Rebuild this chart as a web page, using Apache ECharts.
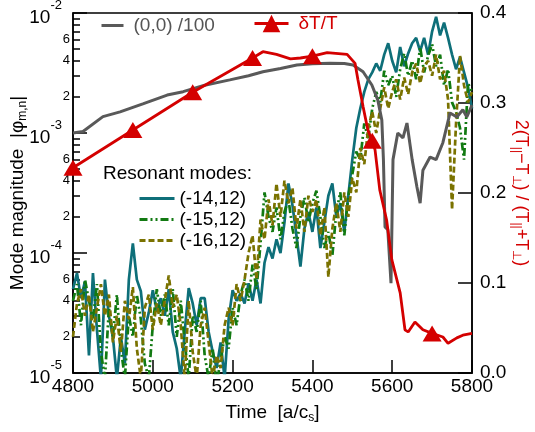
<!DOCTYPE html>
<html><head><meta charset="utf-8">
<script src="https://cdn.jsdelivr.net/npm/echarts@6/dist/echarts.min.js"></script>
<style>html,body{margin:0;padding:0;background:#fff}#c{width:535px;height:432px}</style>
</head><body><div id="c"></div>
<script>
const timeGrid = [4800,4810,4820,4830,4840,4850,4860,4870,4880,4890,4900,4910,4920,4930,4940,4950,4960,4970,4980,4990,
5000,5010,5020,5030,5040,5050,5060,5070,5080,5090,5100,5110,5120,5130,5140,5150,5160,5170,5180,5190,
5200,5210,5220,5230,5240,5250,5260,5270,5280,5290,5300,5310,5320,5330,5340,5350,5360,5370,5380,5390,
5400,5410,5420,5430,5440,5450,5460,5470,5480,5490,5500,5510,5520,5530,5540,5550,5560,5570,5580,5590,
5600,5610,5620,5630,5640,5650,5660,5670,5680,5690,5700,5710,5720,5730,5740,5750,5760,5770,5780,5790,5800];
const mode14 = [5e-5,6.8e-5,4.2e-5,5.8e-5,1.4e-5,6.8e-5,2.3e-5,9e-6,6e-5,3e-5,2e-5,9e-6,2e-5,1.2e-5,6e-5,1.2e-4,6e-5,4.8e-5,2.3e-5,3.2e-5,
4.9e-5,3.3e-5,4.2e-5,3e-5,5e-5,2.2e-5,1.6e-5,9e-6,2.2e-5,5.1e-5,3.8e-5,2.5e-5,4.2e-5,4.2e-5,2.2e-5,1.5e-5,1.1e-5,1.8e-5,9e-6,2.8e-5,
4.9e-5,4e-5,4.6e-5,3.8e-5,5.6e-5,4e-5,6e-5,3.8e-5,8.3e-5,1.12e-4,9e-5,1.3e-4,1e-4,1.8e-4,3.8e-4,2.5e-4,1.4e-4,7.7e-5,1.6e-4,2.2e-4,
1.5e-4,2.4e-4,1.1e-4,1.8e-4,3e-4,3.8e-4,2e-4,2.6e-4,1.5e-4,3e-4,6e-4,1.1e-3,1.6e-3,2.2e-3,2.8e-3,3.2e-3,3.8e-3,3.3e-3,4.5e-3,5.6e-3,
4e-3,3.2e-3,5.2e-3,3.6e-3,4.6e-3,5.6e-3,6.2e-3,4.8e-3,6.2e-3,4.5e-3,7e-3,9.3e-3,6.5e-3,8.3e-3,6.2e-3,4.5e-3,3.4e-3,4.3e-3,3.2e-3,2.4e-3,1.6e-3];
const mode15 = [4e-5,5.5e-5,2.5e-5,6e-5,4e-5,2.8e-5,5.5e-5,1.5e-5,9e-6,3.5e-5,2e-5,4.5e-5,1.6e-5,9e-6,3e-5,2e-5,4.5e-5,2.8e-5,1.2e-5,9e-6,
2.5e-5,5e-5,3e-5,4.5e-5,2.5e-5,5e-5,2e-5,4e-5,1.8e-5,9e-6,3e-5,2.2e-5,4e-5,1.4e-5,9e-6,1.6e-5,8e-6,1.3e-5,2e-5,1.6e-5,
3.5e-5,2.5e-5,4.5e-5,6e-5,4e-5,8e-5,5e-5,1.2e-4,3.2e-4,2e-4,1.5e-4,2.4e-4,1.3e-4,2.2e-4,2.8e-4,1.6e-4,1.1e-4,2e-4,2.9e-4,1.8e-4,
2.6e-4,3.3e-4,2e-4,1.1e-4,1.5e-4,9.5e-5,2.2e-4,3.2e-4,1.4e-4,3e-4,4.5e-4,7e-4,6e-4,1.2e-3,9e-4,1.6e-3,2.2e-3,1.8e-3,3.3e-3,2.5e-3,
3e-3,2e-3,3.4e-3,4.6e-3,3e-3,4e-3,2.8e-3,5.2e-3,3.2e-3,4.4e-3,5.5e-3,3.6e-3,4.5e-3,2.5e-3,3.4e-3,1.8e-3,1.5e-3,1.1e-3,6e-4,2.6e-3,2.2e-3];
const mode16 = [2e-5,3.8e-5,5e-5,3e-5,4.5e-5,2.2e-5,3.5e-5,5.5e-5,3e-5,4.5e-5,1.8e-5,3e-5,1.5e-5,4e-5,2.8e-5,5.2e-5,1.6e-5,9e-6,3.5e-5,4.5e-5,
2.3e-5,3.8e-5,2.5e-5,4e-5,6.5e-5,3.5e-5,4.5e-5,2.5e-5,9e-6,4e-5,1.5e-5,9e-6,2.5e-5,3.5e-5,1.8e-5,9e-6,1.4e-5,1.1e-5,2.5e-5,3.5e-5,
2.5e-5,5.5e-5,4e-5,6e-5,1e-4,1.4e-4,6e-5,1.9e-4,1.3e-4,2.8e-4,1.7e-4,3.8e-4,2e-4,4e-4,2.6e-4,3.5e-4,1.6e-4,2.8e-4,1.5e-4,3e-4,
2.2e-4,2.8e-4,1.4e-4,2.4e-4,6.3e-5,1.6e-4,2.6e-4,1.5e-4,3.2e-4,2e-4,4.2e-4,3.2e-4,7.5e-4,5.5e-4,1.1e-3,1.5e-3,1e-3,1.6e-3,2.4e-3,1.6e-3,
2.2e-3,2.8e-3,1.9e-3,2.9e-3,2.1e-3,3.2e-3,3.8e-3,2.6e-3,3.6e-3,4e-3,3e-3,4.5e-3,2.8e-3,3.3e-3,1.9e-3,2.3e-4,1.2e-3,4.4e-3,2.5e-3,1.8e-3,2.2e-3];
const zeroTime = [4800,4825,4875,4918,4975,5036,5076,5130,5193,5240,5276,5320,5361,5400,5444,5480,5502,5527,5549,5564,5574,5578,5582,5589,5597,5602,5614,5627,5637,5650,5662,5670,5677,5695,5710,5727,5745,5762,5777,5787,5800];
const zeroMode = [1e-3,1.03e-3,1.37e-3,1.5e-3,1.75e-3,2.07e-3,2.21e-3,2.5e-3,2.77e-3,3e-3,3.24e-3,3.45e-3,3.69e-3,3.78e-3,3.81e-3,3.8e-3,3.69e-3,3.24e-3,2.51e-3,1.88e-3,1.28e-3,6e-4,1.65e-4,1.56e-4,5.6e-5,6e-4,1e-3,9.1e-4,1.21e-3,6e-4,3.55e-4,2.6e-4,4.9e-4,6.3e-4,6e-4,8.3e-4,1.47e-3,1.36e-3,1.56e-3,1.36e-3,1.71e-3];
const dTTime = [4800,4950,5100,5250,5276,5310,5345,5370,5400,5437,5487,5507,5514,5527,5539,5550,5557,5569,5586,5599,5620,5632,5640,5657,5677,5700,5727,5740,5762,5777,5800];
const dTValue = [0.228,0.27,0.312,0.35,0.357,0.354,0.349,0.35,0.352,0.356,0.354,0.344,0.326,0.296,0.27,0.258,0.248,0.203,0.17,0.126,0.089,0.048,0.0456,0.0567,0.048,0.044,0.04,0.033,0.039,0.042,0.044];
const dTMarkerTimes = [4800,4950,5100,5250,5400,5550,5700];
const xTicks = [4800,5000,5200,5400,5600,5800];
const rightTicks = [0,0.1,0.2,0.3,0.4];
const decades = [1e-5,1e-4,1e-3,1e-2];
const minorFactors = [2,3,4,5,6,7,8,9];
const minorLabelFactors = [2,4,6];

const FONT = '"Liberation Sans", Arial, Helvetica, sans-serif';
const minorTicks = [], minorLabels = [];
decades.slice(0, 3).forEach(d => {
  minorFactors.forEach(f => minorTicks.push(d * f));
  minorLabelFactors.forEach(f => minorLabels.push(d * f));
});
const pairs = (xs, ys) => xs.map((x, i) => [x, ys[i]]);

const chart = echarts.init(document.getElementById('c'), null, {renderer: 'canvas'});
const axisLine = {show: true, lineStyle: {color: '#000', width: 1.5}};
const subRich = (color, size) => ({
  t: {fontSize: size, color: color, fontFamily: FONT, lineHeight: 22},
  s: {fontSize: 12, color: color, fontFamily: FONT, verticalAlign: 'bottom', lineHeight: 22, padding: [9, 0, 0, 0]}
});
const option = {
  animation: false,
  backgroundColor: '#fff',
  textStyle: {fontFamily: FONT},
  grid: {left: 73, right: 63, top: 13, bottom: 59, outerBoundsMode: 'none', containLabel: false,
         show: true, borderColor: '#000', borderWidth: 1.5, backgroundColor: 'transparent'},
  title: {text: 'Resonant modes:', left: 98, top: 159, textStyle: {fontSize: 19, fontWeight: 'normal', color: '#000', fontFamily: FONT}},
  legend: [
    {left: 100, top: 16, padding: 0, itemWidth: 22, itemHeight: 14, selectedMode: false, itemStyle: {opacity: 0}, lineStyle: {width: 3},
     textStyle: {fontSize: 19, fontFamily: FONT, padding: [0, 0, 0, 5]}, data: [{name: '(0,0) /100', textStyle: {color: '#555'}}]},
    {left: 253, top: 14, padding: 0, itemWidth: 34, itemHeight: 22, selectedMode: false, lineStyle: {width: 3},
     textStyle: {fontSize: 19, fontFamily: FONT, padding: [0, 0, 0, 5]}, data: [{name: 'δT/T', textStyle: {color: '#d40000'}}]},
    {left: 138, top: 188, padding: 0, orient: 'vertical', itemWidth: 35, itemHeight: 14, itemGap: 0, selectedMode: false,
     itemStyle: {opacity: 0}, lineStyle: {width: 3},
     textStyle: {fontSize: 19, lineHeight: 21, color: '#000', fontFamily: FONT}, data: ['(-14,12)', '(-15,12)', '(-16,12)']}
  ],
  xAxis: {
    type: 'value', min: 4800, max: 5800, interval: 200,
    axisLine: axisLine,
    axisTick: {inside: true, length: 13, customValues: xTicks, lineStyle: {color: '#000', width: 1.5}},
    axisLabel: {customValues: xTicks, fontSize: 19, color: '#000', margin: 4, fontFamily: FONT, formatter: v => String(v)},
    splitLine: {show: false},
    name: '{t|Time  [a/c}{s|s}{t|]}', nameLocation: 'middle', nameGap: 29,
    nameTextStyle: {rich: subRich('#000', 19)}
  },
  yAxis: [
    {
      type: 'log', logBase: 10, min: 1e-5, max: 1e-2, position: 'left',
      axisLine: axisLine,
      axisTick: {inside: true, length: 14, customValues: decades, lineStyle: {color: '#000', width: 1.5}},
      axisLabel: {customValues: decades, margin: 11,
        formatter: v => '{b|10}{s|' + Math.round(Math.log10(v)) + '}',
        rich: {b: {fontSize: 19, color: '#000', fontFamily: FONT, verticalAlign: 'bottom', padding: [9, 0, 0, 0]},
               s: {fontSize: 13, color: '#000', fontFamily: FONT, verticalAlign: 'top'}}},
      splitLine: {show: false},
      name: '{t|Mode magnitude  |φ}{s|m,n}{t||}', nameLocation: 'middle', nameGap: 44, nameMoveOverlap: false,
      nameTextStyle: {rich: subRich('#000', 19)}
    },
    {
      type: 'log', logBase: 10, min: 1e-5, max: 1e-2, position: 'left',
      axisLine: {show: false},
      axisTick: {inside: true, length: 7, customValues: minorTicks, lineStyle: {color: '#000', width: 1.5}},
      axisLabel: {customValues: minorLabels, margin: 3, fontSize: 13, color: '#000', fontFamily: FONT,
        formatter: v => String(Math.round(v / Math.pow(10, Math.floor(Math.log10(v) + 1e-9))))},
      splitLine: {show: false}
    },
    {
      type: 'value', min: 0, max: 0.4, interval: 0.1, position: 'right',
      axisLine: axisLine,
      axisTick: {inside: true, length: 14, customValues: rightTicks, lineStyle: {color: '#000', width: 1.5}},
      axisLabel: {customValues: rightTicks, fontSize: 19, color: '#000', margin: 8, fontFamily: FONT, formatter: v => v.toFixed(1)},
      splitLine: {show: false},
      name: '{t|2(T}{s|||}{t|−T}{s|⊥}{t|) / (T}{s|||}{t|+T}{s|⊥}{t|)}', nameLocation: 'middle', nameGap: 38, nameRotate: -90,
      nameMoveOverlap: false,
      nameTextStyle: {rich: subRich('#d40000', 18)}
    }
  ],
  series: [
    {name: '(-14,12)', type: 'line', yAxisIndex: 0, data: pairs(timeGrid, mode14), symbol: 'none',
     lineStyle: {color: '#0e6f79', width: 2.7}, itemStyle: {color: '#0e6f79'}, z: 2},
    {name: '(-15,12)', type: 'line', yAxisIndex: 0, data: pairs(timeGrid, mode15), symbol: 'none',
     lineStyle: {color: '#127a12', width: 2.7, type: [8, 3, 2, 3, 2, 3]}, itemStyle: {color: '#127a12'}, z: 3},
    {name: '(-16,12)', type: 'line', yAxisIndex: 0, data: pairs(timeGrid, mode16), symbol: 'none',
     lineStyle: {color: '#7a7200', width: 2.7, type: [6, 3]}, itemStyle: {color: '#7a7200'}, z: 4},
    {name: '(0,0) /100', type: 'line', yAxisIndex: 0, data: pairs(zeroTime, zeroMode), symbol: 'none',
     lineStyle: {color: '#595959', width: 3}, itemStyle: {color: '#595959'}, z: 5},
    {name: 'δT/T', type: 'line', yAxisIndex: 2, showAllSymbol: true,
     data: dTTime.map((t, i) => ({value: [t, dTValue[i]], symbol: dTMarkerTimes.includes(t) ? 'triangle' : 'none'})),
     symbol: 'triangle', symbolSize: [19, 16],
     lineStyle: {color: '#d40000', width: 2.8}, itemStyle: {color: '#d40000'}, z: 6}
  ]
};
chart.setOption(option);
</script>
</body></html>
